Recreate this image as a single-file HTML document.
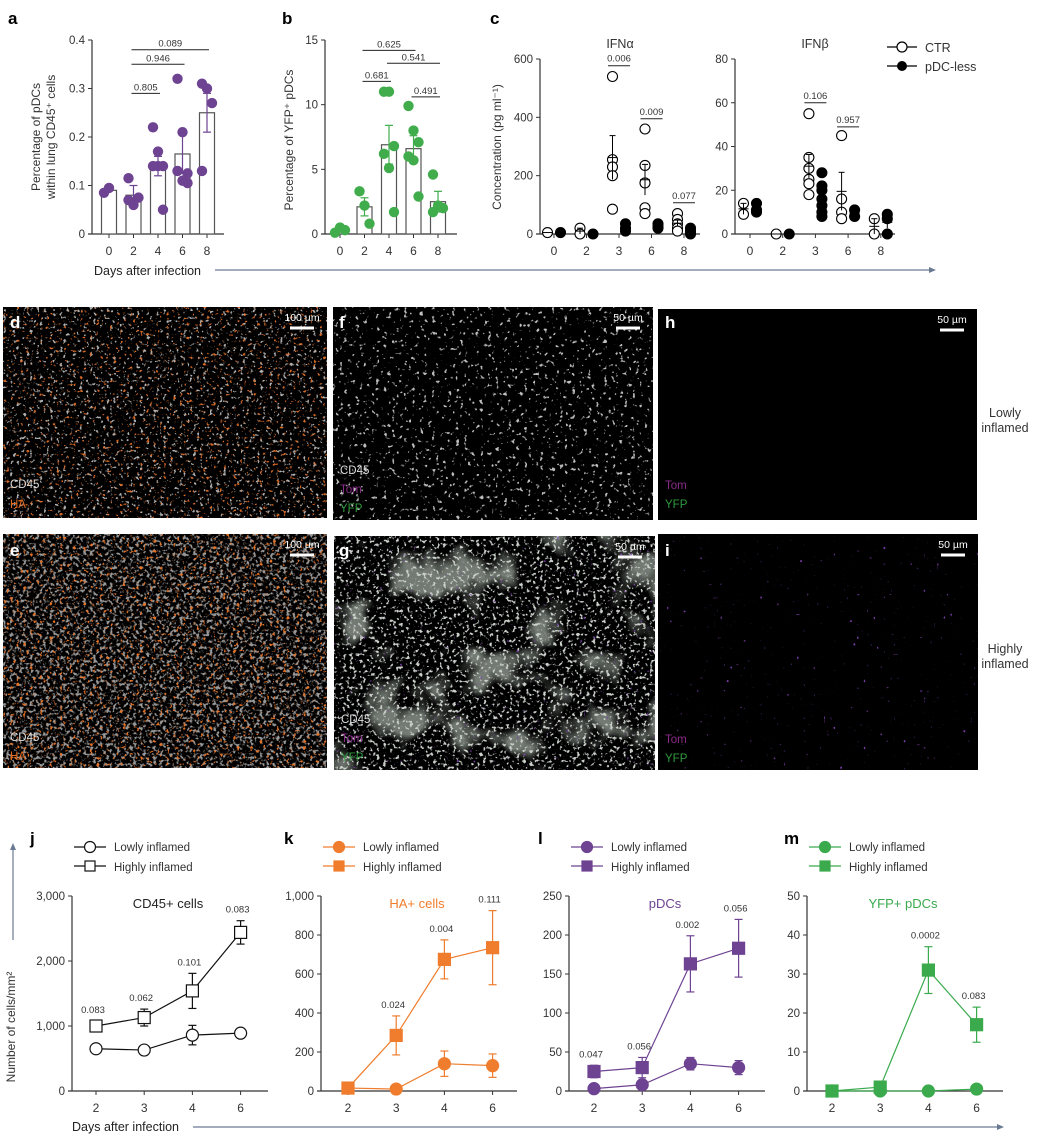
<!DOCTYPE html>
<html><head><meta charset="utf-8"><style>
html,body{margin:0;padding:0;background:#fff;}
svg{display:block;font-family:"Liberation Sans",sans-serif;}
</style></head><body>
<svg id="fig" width="1053" height="1136" viewBox="0 0 1053 1136" xmlns="http://www.w3.org/2000/svg">
<defs>
<filter id="fGray" x="0" y="0" width="100%" height="100%" color-interpolation-filters="sRGB"><feTurbulence type="fractalNoise" baseFrequency="0.3" numOctaves="2" seed="3"/><feColorMatrix type="matrix" values="0 0 0 0 0.7 0 0 0 0 0.7 0 0 0 0 0.7 9 0 0 0 -5.6"/></filter>
<filter id="fGrayF" x="0" y="0" width="100%" height="100%" color-interpolation-filters="sRGB"><feTurbulence type="fractalNoise" baseFrequency="0.25" numOctaves="2" seed="4"/><feColorMatrix type="matrix" values="0 0 0 0 0.75 0 0 0 0 0.75 0 0 0 0 0.75 10 0 0 0 -6.4"/></filter>
<filter id="fGrayD" x="0" y="0" width="100%" height="100%" color-interpolation-filters="sRGB"><feTurbulence type="fractalNoise" baseFrequency="0.3" numOctaves="2" seed="7"/><feColorMatrix type="matrix" values="0 0 0 0 0.6 0 0 0 0 0.6 0 0 0 0 0.6 6 0 0 0 -3.1"/></filter>
<filter id="fGrayG" x="0" y="0" width="100%" height="100%" color-interpolation-filters="sRGB"><feTurbulence type="fractalNoise" baseFrequency="0.3" numOctaves="2" seed="8"/><feColorMatrix type="matrix" values="0 0 0 0 0.8 0 0 0 0 0.82 0 0 0 0 0.8 8 0 0 0 -4.6"/></filter>
<filter id="fOr" x="0" y="0" width="100%" height="100%" color-interpolation-filters="sRGB"><feTurbulence type="fractalNoise" baseFrequency="0.3" numOctaves="2" seed="11"/><feColorMatrix type="matrix" values="0 0 0 0 0.85 0 0 0 0 0.42 0 0 0 0 0.15 10 0 0 0 -6.6"/></filter>
<filter id="fOrE" x="0" y="0" width="100%" height="100%" color-interpolation-filters="sRGB"><feTurbulence type="fractalNoise" baseFrequency="0.3" numOctaves="2" seed="12"/><feColorMatrix type="matrix" values="0 0 0 0 0.9 0 0 0 0 0.45 0 0 0 0 0.15 9 0 0 0 -5.7"/></filter>
<filter id="fBand" x="0" y="0" width="100%" height="100%" color-interpolation-filters="sRGB"><feTurbulence type="fractalNoise" baseFrequency="0.02" numOctaves="3" seed="5"/><feColorMatrix type="matrix" values="0 0 0 0 0.45 0 0 0 0 0.48 0 0 0 0 0.45 5 0 0 0 -2.6"/></filter>
<filter id="fSparse" x="0" y="0" width="100%" height="100%" color-interpolation-filters="sRGB"><feTurbulence type="fractalNoise" baseFrequency="0.3" numOctaves="1" seed="9"/><feColorMatrix type="matrix" values="0 0 0 0 0.5 0 0 0 0 0.25 0 0 0 0 0.7 12 0 0 0 -8.6"/></filter>
</defs>
</svg>
<script>
// ---------- data ----------
const daysAB = ["0","2","4","6","8"];
const barA = [0.09,0.08,0.14,0.165,0.25];
const errA = [0,0.02,0.02,0.04,0.04];
const ptsA = [[0.085,0.095],[0.115,0.06,0.075,0.07],[0.22,0.17,0.14,0.14,0.14,0.05],[0.32,0.21,0.125,0.13,0.11,0.105],[0.31,0.3,0.27,0.13]];
const barB = [0.3,2.1,6.9,6.6,2.5];
const errB = [0,0.7,1.5,1.0,0.8];
const ptsB = [[0.1,0.5,0.3],[3.3,2.2,0.8],[11,11,6.8,6.2,5.1,1.7],[9.9,8,7.1,6,5.7,2.9],[4.6,2.2,2.0,1.7]];
const daysC = ["0","2","3","6","8"];
const alphaCTR = [[5],[20,0],[540,255,230,200,85],[360,235,175,90,70],[70,50,35,20,10]];
const alphaPDC = [[5],[0],[35,20,10],[35,25,20],[20,10,5,0]];
const betaCTR = [[14,9],[0],[55,35,30,25,23,18],[45,16,10,7],[7,0]];
const betaPDC = [[14,10,11],[0],[28,22,20,16,13,10,8],[11,8],[9,7,0]];
const daysJ = ["2","3","4","6"];
const jLow=[650,630,860,890], jHigh=[1000,1130,1540,2440], jLowE=[0,0,150,0], jHighE=[80,130,270,180], jP=["0.083","0.062","0.101","0.083"];
const kLow=[15,10,140,130], kHigh=[15,285,675,735], kLowE=[0,0,65,60], kHighE=[0,100,100,190], kP=["","0.024","0.004","0.111"];
const lLow=[3,8,35,30], lHigh=[25,30,163,183], lLowE=[0,0,8,9], lHighE=[8,13,36,37], lP=["0.047","0.056","0.002","0.056"];
const mLow=[0,0,0,0.5], mHigh=[0,1,31,17], mLowE=[0,0,0,0], mHighE=[0,0,6,4.5], mP=["","","0.0002","0.083"];

const NS="http://www.w3.org/2000/svg";
const svg=document.getElementById('fig');
function el(tag,attrs,name,inter){
  const e=document.createElementNS(NS,tag);
  for(const k in attrs) e.setAttribute(k,attrs[k]);
  
  
  svg.appendChild(e); return e;
}
function tx(x,y,s,attrs,name){const t=el('text',Object.assign({x:x,y:y,fill:'#333','font-size':11.5},attrs||{}),name,false);t.textContent=s;return t;}
function line(x1,y1,x2,y2,c,w,name){return el('line',{x1:x1,y1:y1,x2:x2,y2:y2,stroke:c,'stroke-width':w||1},name,false);}

function yAxis(ax,yb,yt,ticks,vmax,fmt,prefix,xEnd){
  line(ax,yt,ax,yb,'#333',1.2,prefix+'-y-axis');
  line(ax-4,yb,xEnd,yb,'#333',1.2,prefix+'-x-axis');
  ticks.forEach(v=>{const y=yb-(v/vmax)*(yb-yt);
    line(ax-4,y,ax,y,'#333',1,prefix+'-y-tick');
    tx(ax-7,y+4,fmt(v),{'text-anchor':'end'},prefix+'-y-tick-label');});
  return v=>yb-(v/vmax)*(yb-yt);
}
function xTicks(xs,labels,yb,prefix){labels.forEach((l,i)=>{line(xs(i),yb,xs(i),yb+4,'#333',1,prefix+'-x-tick');tx(xs(i),yb+21,l,{'text-anchor':'middle','font-size':12},prefix+'-x-tick-label');});}
function letter(x,y,s,c){tx(x,y,s,{'font-size':17,'font-weight':'bold',fill:c||'#000'},'panel-label-'+s);}

// ---------- panel a/b ----------
function barPanel(prefix,ax,firstX,vmax,ticks,fmt,bars,errs,pts,color,sigs){
  const xs=i=>firstX+i*24.5;
  const ys=yAxis(ax,234,40,ticks,vmax,fmt,prefix,ax+132);
  xTicks(xs,daysAB,234,prefix);
  bars.forEach((b,i)=>{el('rect',{x:xs(i)-7.5,y:ys(b),width:15,height:234-ys(b),fill:'#fff',stroke:'#555','stroke-width':1.2},prefix+'-bar-day'+daysAB[i],false);});
  pts.forEach((arr,i)=>arr.forEach((v,j)=>{const off=arr.length===1?0:((j%3)-1)*5;
    el('circle',{cx:xs(i)+off,cy:ys(v),r:5.2,fill:color},prefix+'-point-day'+daysAB[i],false);}));
  errs.forEach((e,i)=>{if(!e)return;const y1=ys(bars[i]-e),y2=ys(bars[i]+e);
    line(xs(i),y1,xs(i),y2,color,1.2,prefix+'-error-bar');line(xs(i)-4,y1,xs(i)+4,y1,color,1.2,prefix+'-error-cap');line(xs(i)-4,y2,xs(i)+4,y2,color,1.2,prefix+'-error-cap');});
  sigs.forEach(s=>{const y=ys(s[2]);line(xs(s[0])-2,y,xs(s[1])+2,y,'#222',1,prefix+'-sig-line');tx((xs(s[0])+xs(s[1]))/2,y-3,s[3],{'text-anchor':'middle','font-size':9.5},prefix+'-p-value');});
}
const sigA=[[1,2,0.29,"0.805"],[1,3,0.35,"0.946"],[1,4,0.38,"0.089"]];
const sigB=[[1,2,11.8,"0.681"],[1,3,14.2,"0.625"],[2,4,13.2,"0.541"],[3,4,10.6,"0.491"]];
letter(8,24,'a');letter(282,24,'b');letter(490,24,'c');
barPanel('panel-a',92,109,0.4,[0,0.1,0.2,0.3,0.4],v=>v===0?'0':v.toFixed(1),barA,errA,ptsA,'#6e4392',sigA);
barPanel('panel-b',325,340,15,[0,5,10,15],v=>String(v),barB,errB,ptsB,'#40ac4b',sigB);
tx(40,137,'Percentage of pDCs',{'text-anchor':'middle','font-size':12,transform:'rotate(-90 40 137)'},'panel-a-y-title');
tx(55,137,'within lung CD45⁺ cells',{'text-anchor':'middle','font-size':12,transform:'rotate(-90 55 137)'},'panel-a-y-title-2');
tx(293,140,'Percentage of YFP⁺ pDCs',{'text-anchor':'middle','font-size':12,transform:'rotate(-90 293 140)'},'panel-b-y-title');
tx(94,275,'Days after infection',{'font-size':12.5,fill:'#222'},'x-axis-title-top');
line(215,270,932,270,'#6b7a93',1.2,'top-x-arrow-line');
el('path',{d:'M936 270 L929 267 L929 273 Z',fill:'#6b7a93'},'top-x-arrow-head',false);

// ---------- panel c ----------
function dotPanel(prefix,ax,firstX,step,vmax,ticks,ctr,pdc,title,sigs){
  const xs=i=>firstX+i*step;
  const ys=yAxis(ax,234,59,ticks,vmax,v=>String(v),prefix,ax+160);
  xTicks(xs,daysC,234,prefix);
  tx((ax+ax+160)/2,48,title,{'text-anchor':'middle','font-size':12.5},prefix+'-title');
  const grp=(arr,off,fill,nm)=>arr.forEach((g,i)=>{g.forEach(v=>el('circle',{cx:xs(i)+off,cy:ys(v),r:5,fill:fill,stroke:'#000','stroke-width':1.1},prefix+'-'+nm+'-point',false));
    const m=g.reduce((a,b)=>a+b,0)/g.length;const sd=g.length>1?Math.sqrt(g.reduce((a,b)=>a+(b-m)*(b-m),0)/(g.length-1))/Math.sqrt(g.length):0;
    line(xs(i)+off-5,ys(m),xs(i)+off+5,ys(m),'#000',1,prefix+'-'+nm+'-mean');
    if(sd>0){line(xs(i)+off,ys(m-sd),xs(i)+off,ys(m+sd),'#000',1,prefix+'-'+nm+'-error');line(xs(i)+off-3,ys(m+sd),xs(i)+off+3,ys(m+sd),'#000',1,prefix+'-'+nm+'-cap');}});
  grp(ctr,-6.5,'#fff','ctr');grp(pdc,6.5,'#000','pdcless');
  sigs.forEach(s=>{const y=ys(s[1]);line(xs(s[0])-11,y,xs(s[0])+11,y,'#222',1,prefix+'-sig-line');tx(xs(s[0]),y-4,s[2],{'text-anchor':'middle','font-size':9.5},prefix+'-p-value');});
}
dotPanel('panel-c-ifna',540,554,32.5,600,[0,200,400,600],alphaCTR,alphaPDC,'IFNα',[[2,577,"0.006"],[3,395,"0.009"],[4,107,"0.077"]]);
dotPanel('panel-c-ifnb',735,750,32.7,80,[0,20,40,60,80],betaCTR,betaPDC,'IFNβ',[[2,60,"0.106"],[3,49,"0.957"]]);
tx(501,147,'Concentration (pg ml⁻¹)',{'text-anchor':'middle','font-size':12,transform:'rotate(-90 501 147)'},'panel-c-y-title');
line(887,47,917,47,'#000',1.2,'legend-ctr-line');el('circle',{cx:902,cy:47,r:5,fill:'#fff',stroke:'#000','stroke-width':1.2},'legend-ctr-marker',false);
tx(925,52,'CTR',{'font-size':12.5},'legend-ctr-label');
line(887,66,917,66,'#000',1.2,'legend-pdcless-line');el('circle',{cx:902,cy:66,r:5,fill:'#000'},'legend-pdcless-marker',false);
tx(925,71,'pDC-less',{'font-size':12.5},'legend-pdcless-label');

// ---------- microscopy ----------
function img(name,x,y,w,h,filters,labels,scale){
  el('rect',{x:x,y:y,width:w,height:h,fill:'#000'},name+'-image',false);
  filters.forEach(f=>el('rect',{x:x,y:y,width:w,height:h,fill:'#fff',filter:'url(#'+f+')'},name+'-texture',false));
  labels.forEach(l=>tx(x+7,y+l[1],l[0],{'font-size':11.5,fill:l[2]},name+'-channel-label'));
  tx(x+w-25,y+14,scale,{'text-anchor':'middle','font-size':10.5,fill:'#fff'},name+'-scale-text');
  line(x+w-37,y+21,x+w-13,y+21,'#fff',3,name+'-scale-bar');
}
img('panel-d',3,307,324,211,['fGray','fOr'],[['CD45',181,'#ddd'],['HA',201,'#e06a20']],'100 µm');
img('panel-f',333,307,320,213,['fGrayF'],[['CD45',167,'#ddd'],['Tom',186,'#8a2a8a'],['YFP',205,'#2e9a3e']],'50 µm');
img('panel-h',658,309,319,211,[],[['Tom',180,'#8a2a8a'],['YFP',199,'#2e9a3e']],'50 µm');
img('panel-e',3,534,324,234,['fGrayD','fOrE'],[['CD45',207,'#ddd'],['HA',226,'#e06a20']],'100 µm');
img('panel-g',334,536,321,234,['fBand','fGrayG','fSparse'],[['CD45',187,'#ddd'],['Tom',206,'#8a2a8a'],['YFP',225,'#2e9a3e']],'50 µm');
img('panel-i',658,534,320,236,['fSparse'],[['Tom',209,'#8a2a8a'],['YFP',228,'#2e9a3e']],'50 µm');
letter(10,328,'d','#fff');letter(339,328,'f','#fff');letter(665,328,'h','#fff');letter(10,556,'e','#fff');letter(339,556,'g','#fff');letter(665,556,'i','#fff');
tx(1005,417,'Lowly',{'text-anchor':'middle','font-size':12.5},'row-label-lowly');
tx(1005,432,'inflamed',{'text-anchor':'middle','font-size':12.5},'row-label-lowly-2');
tx(1005,653,'Highly',{'text-anchor':'middle','font-size':12.5},'row-label-highly');
tx(1005,668,'inflamed',{'text-anchor':'middle','font-size':12.5},'row-label-highly-2');

// ---------- panels j-m ----------
function linePanel(prefix,ax,firstX,vmax,ticks,fmt,low,high,lowE,highE,pv,color,openMarkers,title,titleColor){
  const xs=i=>firstX+i*48.2;
  const ys=yAxis(ax,1091,896,ticks,vmax,fmt,prefix,ax+196);
  xTicks(xs,daysJ,1091,prefix);
  tx(ax+96,908,title,{'text-anchor':'middle','font-size':13,fill:titleColor},prefix+'-title');
  const fill=openMarkers?'#fff':color;
  [[low,lowE,'lowly'],[high,highE,'highly']].forEach(([vals,errs,nm])=>{
    el('polyline',{points:vals.map((v,i)=>xs(i)+','+ys(v)).join(' '),fill:'none',stroke:color,'stroke-width':1.2},prefix+'-'+nm+'-line',false);
    errs.forEach((e,i)=>{if(!e)return;const a=ys(vals[i]-e),b=ys(vals[i]+e);
      line(xs(i),a,xs(i),b,color,1.2,prefix+'-'+nm+'-error');line(xs(i)-4,a,xs(i)+4,a,color,1.2,prefix+'-'+nm+'-cap');line(xs(i)-4,b,xs(i)+4,b,color,1.2,prefix+'-'+nm+'-cap');});
    vals.forEach((v,i)=>{if(nm==='lowly')el('circle',{cx:xs(i),cy:ys(v),r:6,fill:fill,stroke:color,'stroke-width':1.2},prefix+'-lowly-point',false);
      else el('rect',{x:xs(i)-6,y:ys(v)-6,width:12,height:12,fill:fill,stroke:color,'stroke-width':1.2},prefix+'-highly-point',false);});
  });
  pv.forEach((p,i)=>{if(!p)return;tx(xs(i)-3,ys(high[i]+highE[i])-8,p,{'text-anchor':'middle','font-size':9.5},prefix+'-p-value');});
  const lx=ax+2;
  line(lx,847,lx+32,847,color,1.2,prefix+'-legend-lowly-line');el('circle',{cx:lx+16,cy:847,r:5.5,fill:fill,stroke:color,'stroke-width':1.2},prefix+'-legend-lowly-marker',false);
  tx(lx+40,851,'Lowly inflamed',{'font-size':11.5},prefix+'-legend-lowly-label');
  line(lx,866,lx+32,866,color,1.2,prefix+'-legend-highly-line');el('rect',{x:lx+11,y:861,width:10,height:10,fill:fill,stroke:color,'stroke-width':1.2},prefix+'-legend-highly-marker',false);
  tx(lx+40,871,'Highly inflamed',{'font-size':11.5},prefix+'-legend-highly-label');
}
const comma=v=>v>=1000?(Math.floor(v/1000)+','+String(v%1000).padStart(3,'0')):String(v);
linePanel('panel-j',72,96,3000,[0,1000,2000,3000],comma,jLow,jHigh,jLowE,jHighE,jP,'#111',true,'CD45+ cells','#222');
linePanel('panel-k',321,348,1000,[0,200,400,600,800,1000],comma,kLow,kHigh,kLowE,kHighE,kP,'#ef7d2d',false,'HA+ cells','#ef7d2d');
linePanel('panel-l',569,594,250,[0,50,100,150,200,250],String,lLow,lHigh,lLowE,lHighE,lP,'#6e4392',false,'pDCs','#6e4392');
linePanel('panel-m',807,832,50,[0,10,20,30,40,50],String,mLow,mHigh,mLowE,mHighE,mP,'#3aaa4d',false,'YFP+ pDCs','#3aaa4d');
letter(30,844,'j');letter(284,844,'k');letter(538,844,'l');letter(784,844,'m');
tx(15,1027,'Number of cells/mm²',{'text-anchor':'middle','font-size':12,transform:'rotate(-90 15 1027)'},'bottom-y-title');
line(13,940,13,848,'#6b7a93',1.2,'bottom-y-arrow-line');
el('path',{d:'M13 843 L10 850 L16 850 Z',fill:'#6b7a93'},'bottom-y-arrow-head',false);
tx(72,1131,'Days after infection',{'font-size':12.5,fill:'#222'},'bottom-x-title');
line(193,1127,1000,1127,'#6b7a93',1.2,'bottom-x-arrow-line');
el('path',{d:'M1004 1127 L997 1124 L997 1130 Z',fill:'#6b7a93'},'bottom-x-arrow-head',false);
</script>
</body></html>
